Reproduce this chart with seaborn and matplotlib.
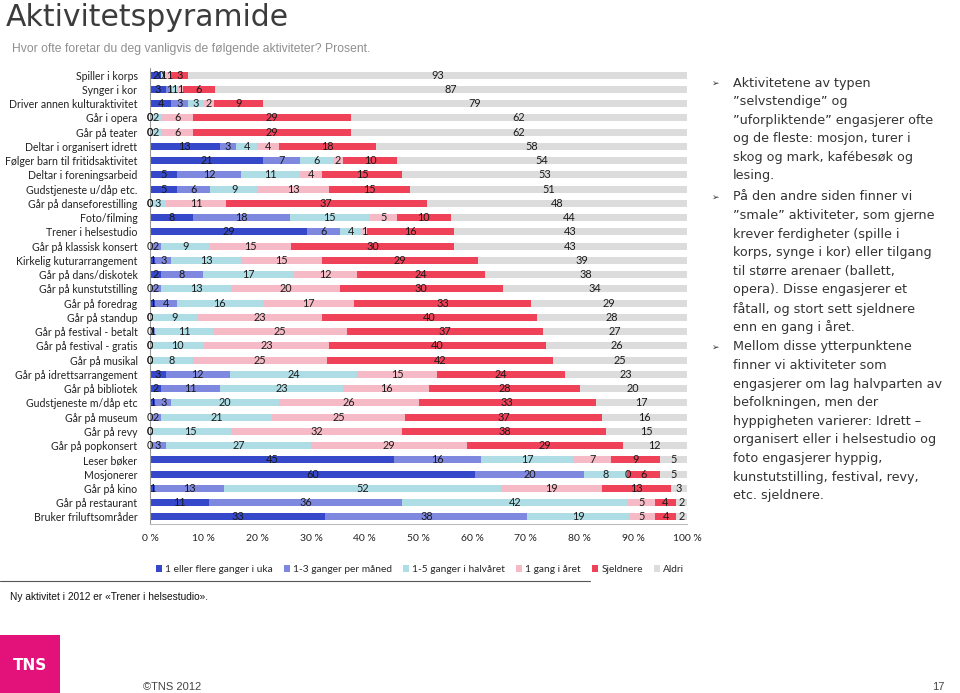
import numpy as np
import pandas as pd
import seaborn as sns
import matplotlib
matplotlib.use("Agg")
from matplotlib import pyplot as plt
from matplotlib.patches import Patch, Rectangle
from matplotlib.lines import Line2D

# aktiviteter, topp til bunn
aktiviteter = ["Spiller i korps", "Synger i kor", "Driver annen kulturaktivitet", "Går i opera",
               "Går på teater", "Deltar i organisert idrett", "Følger barn til fritidsaktivitet",
               "Deltar i foreningsarbeid", "Gudstjeneste u/dåp etc.", "Går på danseforestilling",
               "Foto/filming", "Trener i helsestudio", "Går på klassisk konsert",
               "Kirkelig kuturarrangement", "Går på dans/diskotek", "Går på kunstutstilling",
               "Går på foredrag", "Går på standup", "Går på festival - betalt",
               "Går på festival - gratis", "Går på musikal", "Går på idrettsarrangement",
               "Går på bibliotek", "Gudstjeneste m/dåp etc", "Går på museum", "Går på revy",
               "Går på popkonsert", "Leser bøker", "Mosjonerer", "Går på kino",
               "Går på restaurant", "Bruker friluftsområder"]

serier = ["1 eller flere ganger i uka", "1-3 ganger per måned", "1-5 ganger i halvåret",
          "1 gang i året", "Sjeldnere", "Aldri"]

uke =      [2, 3, 4, 0, 0, 13, 21, 5, 5, 0, 8, 29, 0, 1, 2, 0, 1, 0, 0, 0, 0, 3, 2, 1, 0, 0, 0, 45, 60, 1, 11, 33]
maaned =   [0, 1, 3, 0, 0, 3, 7, 12, 6, 0, 18, 6, 2, 3, 8, 2, 4, 0, 1, 0, 0, 12, 11, 3, 2, 0, 3, 16, 20, 13, 36, 38]
halvaar =  [1, 1, 3, 2, 2, 4, 6, 11, 9, 3, 15, 4, 9, 13, 17, 13, 16, 9, 11, 10, 8, 24, 23, 20, 21, 15, 27, 17, 8, 52, 42, 19]
en_gang =  [1, 1, 2, 6, 6, 4, 2, 4, 13, 11, 5, 1, 15, 15, 12, 20, 17, 23, 25, 23, 25, 15, 16, 26, 25, 32, 29, 7, 0, 19, 5, 5]
sjeldnere = [3, 6, 9, 29, 29, 18, 10, 15, 15, 37, 10, 16, 30, 29, 24, 30, 33, 40, 37, 40, 42, 24, 28, 33, 37, 38, 29, 9, 6, 13, 4, 4]
aldri =    [93, 87, 79, 62, 62, 58, 54, 53, 51, 48, 44, 43, 43, 39, 38, 34, 29, 28, 27, 26, 25, 23, 20, 17, 16, 15, 12, 5, 5, 3, 2, 2]

farger = ["#3548C9", "#7D88DE", "#AEDDE5", "#F5BAC5", "#EF4259", "#DCDCDC"]

verdier = np.array([uke, maaned, halvaar, en_gang, sjeldnere, aldri], dtype=float).T
andel = verdier / verdier.sum(axis=1, keepdims=True) * 100
kum = andel.cumsum(axis=1)

fig = plt.figure(figsize=(9.6, 6.93), dpi=100)
sns.set_style("white")
plt.rcParams['font.family'] = ['Lato', 'DejaVu Sans']

ax = fig.add_axes([150 / 960, 1 - 524 / 693, 537 / 960, 456 / 693])

# tegn kumulative søyler fra høyre mot venstre
for i in reversed(range(len(serier))):
    df = pd.DataFrame({"aktivitet": aktiviteter, "verdi": kum[:, i]})
    sns.barplot(data=df, x="verdi", y="aktivitet", orient="h", color=farger[i],
                width=0.5, saturation=1, linewidth=0, ax=ax)

# verdietiketter
for r in range(len(aktiviteter)):
    for i in range(len(serier)):
        start = kum[r, i] - andel[r, i]
        ax.text(start + andel[r, i] / 2, r, f"{int(verdier[r, i])}", ha="center", va="center",
                fontsize=7.8, color="#1a1a1a")

ax.set_xlim(0, 100)
ax.set_ylim(len(aktiviteter) - 0.5, -0.5)
ax.set_xticks(range(0, 101, 10))
ax.set_xticklabels([f"{t} %" for t in range(0, 101, 10)], fontsize=7.5, color="#222")
ax.set_yticks(range(len(aktiviteter)))
ax.set_yticklabels(aktiviteter, fontsize=7.6, color="#222")
ax.set_yticks(np.arange(-0.5, len(aktiviteter), 1), minor=True)
ax.tick_params(axis="y", which="major", length=0, pad=9)
ax.tick_params(axis="y", which="minor", length=3, color="#999", direction="out")
ax.tick_params(axis="x", length=3, color="#999", direction="out", pad=4)
ax.set_xlabel("")
ax.set_ylabel("")
for s in ["top", "right"]:
    ax.spines[s].set_visible(False)
ax.spines["left"].set_color("#999")
ax.spines["bottom"].set_color("#bbb")

# legende
handles = [Patch(facecolor=c, edgecolor="none") for c in farger]
fig.legend(handles, serier, loc="upper center", bbox_to_anchor=(420 / 960, 1 - 556 / 693),
           ncol=6, frameon=False, fontsize=7.3, handlelength=0.6, handleheight=0.6,
           handletextpad=0.3, columnspacing=1.1)

# tittel og undertittel
fig.text(6 / 960, 1 - 17 / 693, "Aktivitetspyramide", fontsize=21.5, color="#3c3c3c",
         va="center", family=["DejaVu Sans"])
fig.text(12 / 960, 1 - 49 / 693,
         "Hvor ofte foretar du deg vanligvis de følgende aktiviteter? Prosent.",
         fontsize=8.7, color="#8f8f8f", va="center", family=["Liberation Sans"])

# kommentartekst til høyre
avsnitt = [
    (83, ["Aktivitetene av typen", "”selvstendige” og", "”uforpliktende” engasjerer ofte",
          "og de fleste: mosjon, turer i", "skog og mark, kafébesøk og", "lesing."]),
    (197, ["På den andre siden finner vi", "”smale” aktiviteter, som gjerne",
           "krever ferdigheter (spille i", "korps, synge i kor) eller tilgang",
           "til større arenaer (ballett,", "opera). Disse engasjerer et",
           "fåtall, og stort sett sjeldnere", "enn en gang i året."]),
    (347, ["Mellom disse ytterpunktene", "finner vi aktiviteter som",
           "engasjerer om lag halvparten av", "befolkningen, men der",
           "hyppigheten varierer: Idrett –", "organisert eller i helsestudio og",
           "foto engasjerer hyppig,", "kunstutstilling, festival, revy,", "etc. sjeldnere."]),
]
for y0, linjer in avsnitt:
    fig.text(712 / 960, 1 - y0 / 693, "➢", fontsize=6.5, color="#333", va="center",
             family=["DejaVu Sans"])
    for k, linje in enumerate(linjer):
        fig.text(733 / 960, 1 - (y0 + k * 18.6) / 693, linje, fontsize=9.2, color="#333",
                 va="center", family=["DejaVu Sans"])

# fotnote med ramme
fig.add_artist(Line2D([0, 590 / 960], [1 - 581 / 693] * 2, color="#555", lw=0.8))
fig.text(10 / 960, 1 - 597 / 693, "Ny aktivitet i 2012 er «Trener i helsestudio».",
         fontsize=7.3, color="#111", va="center", family=["Liberation Sans"])

# bunnfelt
fig.add_artist(Rectangle((0, 0), 60 / 960, 58 / 693, facecolor="#E2127A", edgecolor="none"))
fig.text(30 / 960, 1 - 665 / 693, "TNS", fontsize=11, color="white", weight="bold",
         ha="center", va="center", family=["DejaVu Sans"])
fig.text(143 / 960, 1 - 687 / 693, "©TNS 2012", fontsize=8, color="#444", va="center",
         family=["Liberation Sans"])
fig.text(944 / 960, 1 - 687 / 693, "17", fontsize=8, color="#444", va="center", ha="right",
         family=["Liberation Sans"])

fig.savefig("out.png", dpi=100)
